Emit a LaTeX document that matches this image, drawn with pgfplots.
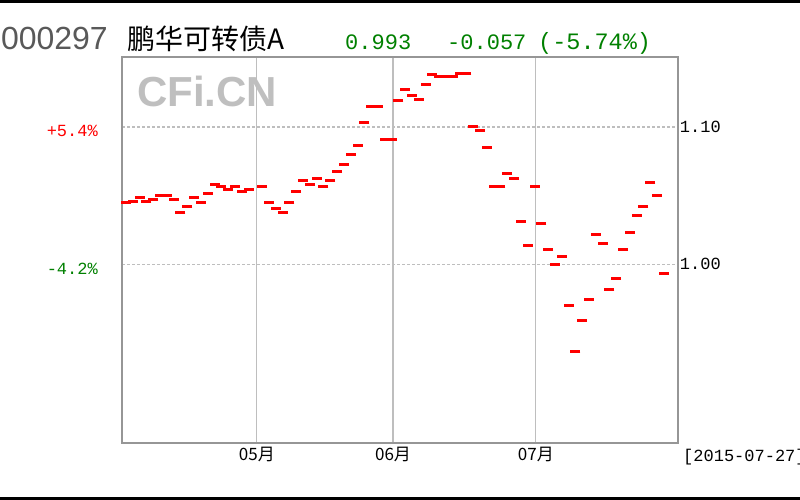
\documentclass[border=0pt]{standalone}
\usepackage{pgfplots}
\pgfplotsset{compat=1.18}
\usepackage{pgfplotstable}
\usepackage{fontspec}
\setmainfont{Liberation Sans}
\setmonofont{Liberation Mono}
\newfontfamily\cjk{Noto Sans CJK SC}
\definecolor{upred}{RGB}{255,0,0}
\definecolor{dngreen}{RGB}{0,128,0}
\definecolor{framegray}{RGB}{150,150,150}
\definecolor{gridgray}{RGB}{190,190,190}
\pgfplotstableread{
t v
0 1.0448
1 1.0460
2 1.0489
3 1.0460
4 1.0472
5 1.0504
6 1.0504
7 1.0472
8 1.0380
9 1.0419
10 1.0487
11 1.0448
12 1.0516
13 1.0584
14 1.0569
15 1.0543
16 1.0569
17 1.0528
18 1.0543
20 1.0567
21 1.0448
22 1.0407
23 1.0377
24 1.0448
25 1.0528
26 1.0611
27 1.0582
28 1.0623
29 1.0567
30 1.0611
31 1.0677
32 1.0730
33 1.0799
34 1.0866
35 1.1029
36 1.1149
37 1.1149
38 1.0905
39 1.0905
40 1.1190
41 1.1273
42 1.1231
43 1.1202
44 1.1312
45 1.1380
46 1.1368
47 1.1368
48 1.1368
49 1.1392
50 1.1392
51 1.1000
52 1.0974
53 1.0852
54 1.0567
55 1.0567
56 1.0662
57 1.0623
58 1.0309
59 1.0136
60 1.0567
61 1.0299
62 1.0107
63 1.0000
64 1.0054
65 0.9701
66 0.9363
67 0.9594
68 0.9742
69 1.0217
70 1.0149
71 0.9813
72 0.9893
73 1.0107
74 1.0231
75 1.0353
76 1.0419
77 1.0594
78 1.0501
79 0.9932
}\navdata
\begin{document}
\begin{tikzpicture}
\path[use as bounding box] (0pt,0pt) rectangle (800pt,500pt);
\fill[black] (0pt,496.5pt) rectangle (800pt,500pt);
\fill[black] (0pt,0pt) rectangle (800pt,2.5pt);
% title
\node[anchor=base east, inner sep=0pt, font=\fontsize{32}{32}\selectfont, text=black!65] at (108pt,450pt) {000297};
\node[anchor=base west, inner sep=0pt, font=\cjk\fontsize{28}{28}\selectfont] at (127pt,450pt) {鹏华可转债A};
\node[anchor=base west, inner sep=0pt, font=\ttfamily\fontsize{22}{22}\selectfont, text=dngreen] at (345pt,450pt) {0.993};
\node[anchor=base west, inner sep=0pt, font=\ttfamily\fontsize{22}{22}\selectfont, text=dngreen] at (447pt,450pt) {-0.057};
\node[anchor=base west, inner sep=0pt, font=\ttfamily\fontsize{23.5}{23.5}\selectfont, text=dngreen] at (538pt,450pt) {(-5.74\%)};
% watermark
\node[anchor=west, inner sep=0pt, font=\bfseries\fontsize{42}{42}\selectfont, text=black!25] at (137pt,408.5pt) {CFi.CN};
\begin{axis}[
  at={(122pt,57pt)}, anchor=south west, scale only axis,
  width=555.7pt, height=386pt,
  xmin=-0.59, xmax=81.03, ymin=0.8699, ymax=1.1509,
  axis line style={draw=framegray, line width=1.8pt},
  xtick={19.22,39.22,60.2}, xticklabels={05月,06月,07月},
  ytick={1.00,1.10}, yticklabels={1.00,1.10},
  yticklabel pos=right,
  major tick length=0pt,
  xmajorgrids, ymajorgrids,
  x grid style={gridgray, line width=1.2pt},
  y grid style={gridgray, line width=1.5pt, dash pattern=on 3pt off 2pt},
  xticklabel style={font=\cjk\fontsize{17}{17}\selectfont, yshift=-1pt},
  yticklabel style={font=\ttfamily\fontsize{17}{17}\selectfont, anchor=west, inner sep=1pt, xshift=1pt},
  clip=false,
]
\addplot[only marks, mark=-, mark size=5pt, color=upred, mark options={line width=3pt}] table[x=t, y=v] {\navdata};
\node[anchor=east, inner sep=0pt, text=upred, font=\ttfamily\fontsize{17}{17}\selectfont] at (rel axis cs:0,0.8082) [xshift=-24pt] {+5.4\%};
\node[anchor=east, inner sep=0pt, text=dngreen, font=\ttfamily\fontsize{17}{17}\selectfont] at (rel axis cs:0,0.4523) [xshift=-24pt] {-4.2\%};
\end{axis}
\node[anchor=west, inner sep=0pt, font=\ttfamily\fontsize{17}{17}\selectfont] at (683pt,43pt) {[2015-07-27]};
\end{tikzpicture}
\end{document}
